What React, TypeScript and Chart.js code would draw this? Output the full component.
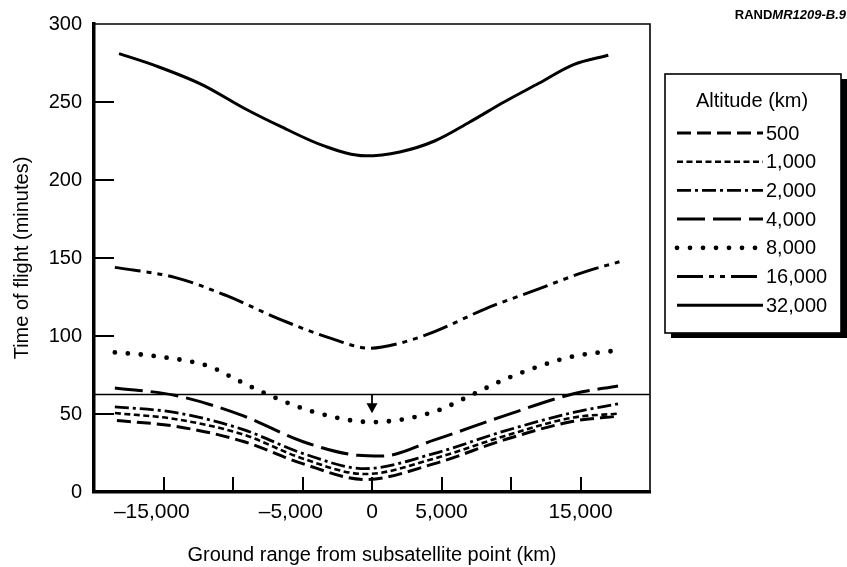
import React, { useEffect, useRef } from "react";
import { Chart, registerables } from "chart.js";

Chart.register(...registerables);

// ---------- data ----------
const altitudeLabels = ["500", "1,000", "2,000", "4,000", "8,000", "16,000", "32,000"];

const x500 = [-18350, -14200, -9250, -5000, -500, 4500, 9500, 14500, 17700];
const y500 = [45.8, 42.2, 32.4, 18.2, 8, 18.2, 33.4, 45.4, 48.6];

const x1000 = [-18500, -14200, -9250, -5000, -500, 4500, 9500, 14500, 17700];
const y1000 = [50.6, 46.8, 36.8, 21.5, 11.5, 21.5, 35.8, 47.8, 50.2];

const x2000 = [-18500, -14200, -9250, -5000, -500, 4500, 9500, 14500, 17700];
const y2000 = [54.6, 51, 40, 24.8, 15, 24.8, 39, 51, 56.5];

const x4000 = [-18500, -14200, -9250, -5000, -1000, 700, 4500, 9500, 14500, 17700];
const y4000 = [66.6, 62, 48.8, 32.4, 23.5, 23, 33.4, 48.8, 63, 68];

const x8000 = [-18500, -15500, -11700, -9750, -7250, -4250, 0, 4500, 7000, 9500, 12000, 14500, 17900];
const y8000 = [89.5, 87, 80.5, 72, 61.5, 51.5, 44.8, 51.5, 61.5, 72, 80.5, 87, 91];

const x16000 = [-18500, -14200, -10500, -6750, -3000, -150, 2000, 4500, 8200, 12000, 15200, 17800];
const y16000 = [144, 137.6, 126, 111.2, 98.6, 92.2, 95.4, 102.8, 117.6, 130.2, 140.8, 147.6];

const x32000 = [-18200, -15500, -12200, -9200, -6500, -3500, -500, 2000, 4500, 7000, 9500, 12000, 14500, 17000];
const y32000 = [281, 273, 261, 246, 234, 222, 215.5, 218, 225, 237, 250, 262, 274, 280];

const xTickValues = [-15000, -5000, 0, 5000, 15000];
const xTickLabels = ["\u201315,000    ", "\u20135,000    ", "0", "5,000", "15,000"];
const yTickValues = [0, 50, 100, 150, 200, 250, 300];

const referenceLine = 62.5; // horizontal line value (minutes)
const arrowX = 0;
const arrowTip = 50.5;

const FONT = '"Liberation Sans", Arial, Helvetica, sans-serif';

const seriesX = [x500, x1000, x2000, x4000, x8000, x16000, x32000];
const seriesY = [y500, y1000, y2000, y4000, y8000, y16000, y32000];
const dashes: number[][] = [
  [14, 6],
  [6, 3.5],
  [14, 4, 3, 4],
  [28, 8],
  [0, 13],
  [26, 6, 5, 6, 5, 6],
  [],
];
const widths = [3, 2.6, 2.8, 3, 4.8, 3, 3];

const decorPlugin = {
  id: "decor",
  afterDatasetsDraw(chart: any) {
    const { ctx, chartArea: ca, scales } = chart;
    const xs = scales.x;
    const ys = scales.y;
    ctx.save();
    ctx.strokeStyle = "#000";
    ctx.fillStyle = "#000";
    ctx.setLineDash([]);
    ctx.lineCap = "butt";
    // top and right borders
    ctx.lineWidth = 1.6;
    ctx.beginPath();
    ctx.moveTo(ca.left, ca.top);
    ctx.lineTo(ca.right, ca.top);
    ctx.lineTo(ca.right, ca.bottom);
    ctx.stroke();
    // inward ticks
    ctx.lineWidth = 2;
    xs.ticks.forEach((t: any) => {
      if (t.value > xs.min && t.value < xs.max) {
        const px = Math.round(xs.getPixelForValue(t.value));
        ctx.beginPath();
        ctx.moveTo(px, ca.bottom);
        ctx.lineTo(px, ca.bottom - 15);
        ctx.stroke();
      }
    });
    ys.ticks.forEach((t: any) => {
      if (t.value > ys.min && t.value < ys.max) {
        const py = Math.round(ys.getPixelForValue(t.value));
        ctx.beginPath();
        ctx.moveTo(ca.left, py);
        ctx.lineTo(ca.left + 20, py);
        ctx.stroke();
      }
    });
    // reference line
    const ry = ys.getPixelForValue(referenceLine);
    ctx.lineWidth = 1.6;
    ctx.beginPath();
    ctx.moveTo(ca.left, ry);
    ctx.lineTo(ca.right, ry);
    ctx.stroke();
    // arrow
    const ax = xs.getPixelForValue(arrowX);
    const ty = ys.getPixelForValue(arrowTip);
    ctx.lineWidth = 1.8;
    ctx.beginPath();
    ctx.moveTo(ax, ry);
    ctx.lineTo(ax, ty - 8);
    ctx.stroke();
    ctx.beginPath();
    ctx.moveTo(ax - 5.5, ty - 10);
    ctx.lineTo(ax + 5.5, ty - 10);
    ctx.lineTo(ax, ty);
    ctx.closePath();
    ctx.fill();

    // legend box
    const bx = 665, by = 74, bw = 176, bh = 259;
    ctx.fillStyle = "#000";
    ctx.fillRect(bx + 6, by + 5, bw, bh);
    ctx.fillStyle = "#fff";
    ctx.fillRect(bx, by, bw, bh);
    ctx.strokeStyle = "#000";
    ctx.lineWidth = 1.6;
    ctx.strokeRect(bx, by, bw, bh);
    ctx.fillStyle = "#000";
    ctx.font = `20px ${FONT}`;
    ctx.textAlign = "center";
    ctx.textBaseline = "middle";
    ctx.fillText("Altitude (km)", 752, 101);
    ctx.textAlign = "left";
    chart.data.datasets.forEach((ds: any, i: number) => {
      const yy = 133 + i * 28.7;
      ctx.save();
      ctx.strokeStyle = "#000";
      ctx.lineWidth = ds.borderWidth;
      ctx.lineCap = ds.borderCapStyle || "butt";
      ctx.setLineDash(ds.borderDash || []);
      ctx.beginPath();
      ctx.moveTo(677, yy);
      ctx.lineTo(763, yy);
      ctx.stroke();
      ctx.restore();
      ctx.fillText(ds.label, 766, yy + 1);
    });

    // source tag
    ctx.textAlign = "right";
    const tag2 = "MR1209-B.9";
    ctx.font = `italic bold 13px ${FONT}`;
    const w2 = ctx.measureText(tag2).width;
    ctx.fillText(tag2, 846, 15);
    ctx.font = `bold 13px ${FONT}`;
    ctx.fillText("RAND", 846 - w2, 15);
    ctx.restore();
  },
};

export default function App() {
  const ref = useRef<HTMLCanvasElement | null>(null);
  useEffect(() => {
    if (!ref.current) return;
    Chart.defaults.font.family = FONT;
    Chart.defaults.color = "#000";
    const datasets = altitudeLabels.map((label, i) => ({
      label,
      data: seriesX[i].map((x, j) => ({ x, y: seriesY[i][j] })),
      borderColor: "#000",
      backgroundColor: "#000",
      borderWidth: widths[i],
      borderDash: dashes[i],
      borderCapStyle: i === 4 ? "round" : "butt",
      pointRadius: 0,
      fill: false,
      cubicInterpolationMode: "monotone" as const,
    }));
    const chart = new Chart(ref.current, {
      type: "line",
      data: { datasets: datasets as any },
      options: {
        responsive: false,
        animation: false,
        layout: { padding: { left: 0, top: 18, right: 197, bottom: 0 } },
        plugins: { legend: { display: false }, tooltip: { enabled: false } },
        scales: {
          x: {
            type: "linear",
            min: -20000,
            max: 20000,
            afterFit: (s: any) => { s.height = 75; },
            grid: { display: false, drawTicks: false },
            border: { display: true, width: 3.5, color: "#000" },
            ticks: {
              stepSize: 5000,
              autoSkip: false,
              maxRotation: 0,
              padding: 8,
              font: { size: 21 },
              color: "#000",
              callback: (v: any) => {
                const i = xTickValues.indexOf(Number(v));
                return i >= 0 ? xTickLabels[i] : "";
              },
            },
            title: {
              display: true,
              text: "Ground range from subsatellite point (km)",
              font: { size: 20 },
              color: "#000",
              padding: { top: 0, bottom: 0 },
            },
          },
          y: {
            type: "linear",
            min: 0,
            max: 300,
            afterFit: (s: any) => { s.width = 94; },
            grid: { display: false, drawTicks: false },
            border: { display: true, width: 3.5, color: "#000" },
            ticks: {
              stepSize: 50,
              padding: 12,
              font: { size: 20 },
              color: "#000",
              callback: (v: any) => (yTickValues.includes(Number(v)) ? String(v) : ""),
            },
            title: {
              display: true,
              text: "Time of flight (minutes)",
              font: { size: 20 },
              color: "#000",
              padding: { top: 10, bottom: 0 },
            },
          },
        },
      },
      plugins: [decorPlugin],
    });
    return () => chart.destroy();
  }, []);
  return (
    <div style={{ position: "fixed", left: 0, top: 0, width: 847, height: 567, background: "#fff" }}>
      <canvas ref={ref} width={847} height={567} style={{ display: "block" }} />
    </div>
  );
}
